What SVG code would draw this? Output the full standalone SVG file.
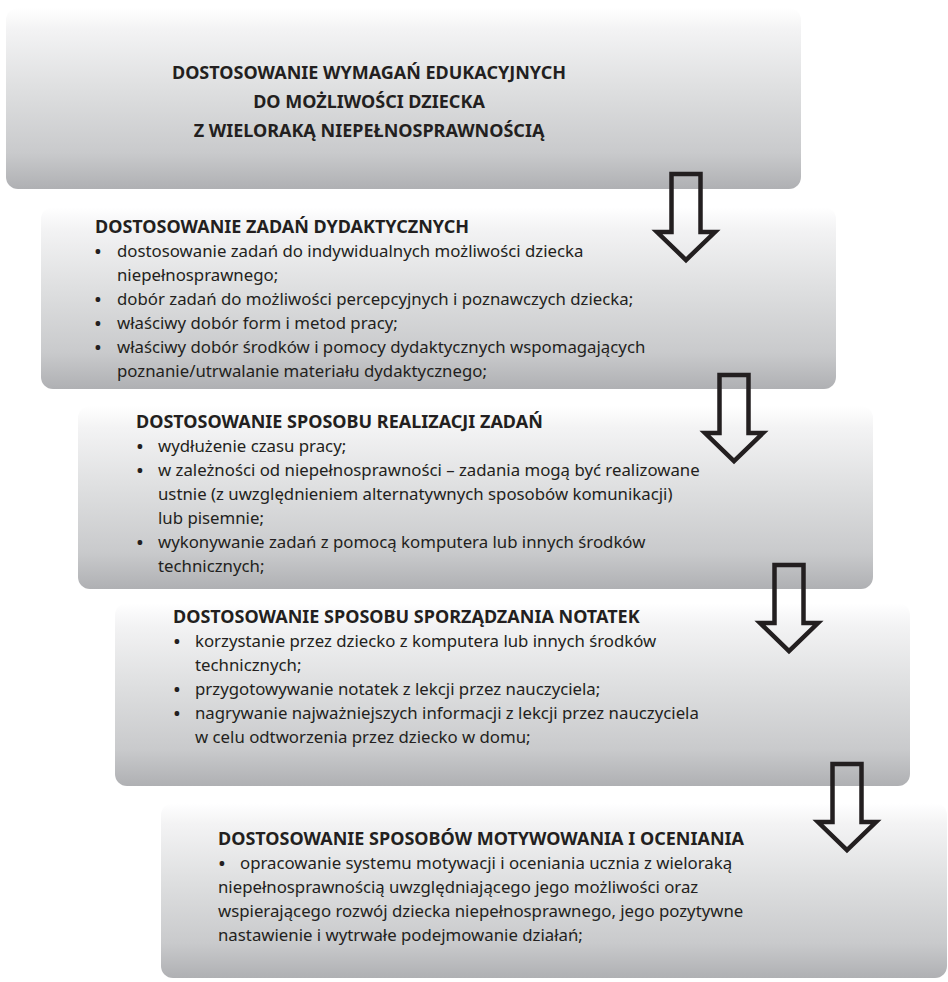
<svg xmlns="http://www.w3.org/2000/svg" xmlns:xlink="http://www.w3.org/1999/xlink" width="948" height="982" viewBox="0 0 948 982">
<defs>
<linearGradient id="g" x1="0" y1="0" x2="0" y2="1">
<stop offset="0" stop-color="#ffffff"/>
<stop offset="0.12" stop-color="#f3f3f4"/>
<stop offset="0.45" stop-color="#dedfe0"/>
<stop offset="0.8" stop-color="#c9cacc"/>
<stop offset="1" stop-color="#afb0b3"/>
</linearGradient>
<path id="arrow" d="M -14.5,2 H 14.5 V 60 H 29 L 0,88 L -29,60 H -14.5 Z"/>
<style>
.box { fill: url(#g); }
.h { font-family: "Noto Sans", "Liberation Sans", sans-serif; font-weight: 700; font-size: 18px; fill: #231f20; }
.t { font-family: "Noto Sans", "Liberation Sans", sans-serif; font-size: 16.8px; fill: #231f20; }
.b { font-weight: 700; text-anchor: middle; }
.c { text-anchor: middle; }
.arrow { fill: none; stroke: #231f20; stroke-width: 4.5; stroke-linejoin: miter; }
</style>
</defs>
<rect width="948" height="982" fill="#ffffff"/>

<g id="node-1">
<rect class="box" x="6" y="8" width="795" height="181" rx="12"/>
<text class="h c" x="369" y="79">DOSTOSOWANIE WYMAGAŃ EDUKACYJNYCH</text>
<text class="h c" x="369" y="108">DO MOŻLIWOŚCI DZIECKA</text>
<text class="h c" x="369" y="137">Z WIELORAKĄ NIEPEŁNOSPRAWNOŚCIĄ</text>
</g>

<g id="node-2">
<rect class="box" x="41" y="207" width="795" height="182" rx="12"/>
<text class="h" x="95" y="233">DOSTOSOWANIE ZADAŃ DYDAKTYCZNYCH</text>
<text class="t" y="257"><tspan class="b" x="98">•</tspan><tspan x="117">dostosowanie zadań do indywidualnych możliwości dziecka</tspan></text>
<text class="t" x="117" y="281">niepełnosprawnego;</text>
<text class="t" y="305"><tspan class="b" x="98">•</tspan><tspan x="117">dobór zadań do możliwości percepcyjnych i poznawczych dziecka;</tspan></text>
<text class="t" y="329"><tspan class="b" x="98">•</tspan><tspan x="117">właściwy dobór form i metod pracy;</tspan></text>
<text class="t" y="353"><tspan class="b" x="98">•</tspan><tspan x="117">właściwy dobór środków i pomocy dydaktycznych wspomagających</tspan></text>
<text class="t" x="117" y="377">poznanie/utrwalanie materiału dydaktycznego;</text>
</g>

<g id="node-3">
<rect class="box" x="78" y="406" width="795" height="183" rx="12"/>
<text class="h" x="136" y="428">DOSTOSOWANIE SPOSOBU REALIZACJI ZADAŃ</text>
<text class="t" y="452"><tspan class="b" x="140">•</tspan><tspan x="158">wydłużenie czasu pracy;</tspan></text>
<text class="t" y="476"><tspan class="b" x="140">•</tspan><tspan x="158">w zależności od niepełnosprawności – zadania mogą być realizowane</tspan></text>
<text class="t" x="158" y="500">ustnie (z uwzględnieniem alternatywnych sposobów komunikacji)</text>
<text class="t" x="158" y="524">lub pisemnie;</text>
<text class="t" y="548"><tspan class="b" x="140">•</tspan><tspan x="158">wykonywanie zadań z pomocą komputera lub innych środków</tspan></text>
<text class="t" x="158" y="572">technicznych;</text>
</g>

<g id="node-4">
<rect class="box" x="115" y="603" width="795" height="183" rx="12"/>
<text class="h" x="173" y="623">DOSTOSOWANIE SPOSOBU SPORZĄDZANIA NOTATEK</text>
<text class="t" y="647"><tspan class="b" x="177">•</tspan><tspan x="195">korzystanie przez dziecko z komputera lub innych środków</tspan></text>
<text class="t" x="195" y="671">technicznych;</text>
<text class="t" y="695"><tspan class="b" x="177">•</tspan><tspan x="195">przygotowywanie notatek z lekcji przez nauczyciela;</tspan></text>
<text class="t" y="719"><tspan class="b" x="177">•</tspan><tspan x="195">nagrywanie najważniejszych informacji z lekcji przez nauczyciela</tspan></text>
<text class="t" x="195" y="743">w celu odtworzenia przez dziecko w domu;</text>
</g>

<g id="node-5">
<rect class="box" x="161" y="803" width="786" height="175" rx="12"/>
<text class="h" x="218" y="845">DOSTOSOWANIE SPOSOBÓW MOTYWOWANIA I OCENIANIA</text>
<text class="t" y="869"><tspan class="b" x="222">•</tspan><tspan x="240">opracowanie systemu motywacji i oceniania ucznia z wieloraką</tspan></text>
<text class="t" x="218" y="893">niepełnosprawnością uwzględniającego jego możliwości oraz</text>
<text class="t" x="218" y="917">wspierającego rozwój dziecka niepełnosprawnego, jego pozytywne</text>
<text class="t" x="218" y="941">nastawienie i wytrwałe podejmowanie działań;</text>
</g>

<g id="connectors">
<use xlink:href="#arrow" href="#arrow" class="arrow" x="686" y="172"/>
<use xlink:href="#arrow" href="#arrow" class="arrow" x="734" y="373"/>
<use xlink:href="#arrow" href="#arrow" class="arrow" x="789" y="563"/>
<use xlink:href="#arrow" href="#arrow" class="arrow" x="847" y="762"/>
</g>
</svg>
